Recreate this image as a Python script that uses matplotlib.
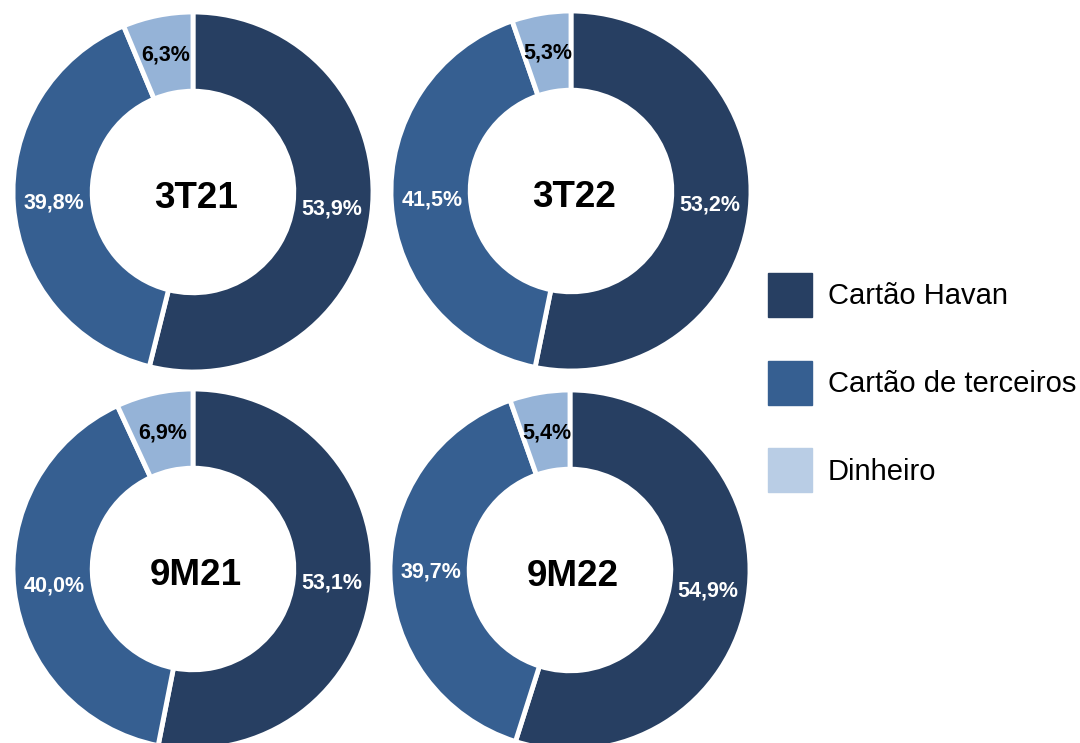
import matplotlib.pyplot as plt
from matplotlib.patches import Patch

plt.rcParams['font.family'] = ['Liberation Sans', 'DejaVu Sans']

categories = ["Cartão Havan", "Cartão de terceiros", "Dinheiro"]
periods = ["3T21", "3T22", "9M21", "9M22"]
havan = [53.9, 53.2, 53.1, 54.9]
terceiros = [39.8, 41.5, 40.0, 39.7]
dinheiro = [6.3, 5.3, 6.9, 5.4]

colors = ["#273F62", "#365F91", "#95B3D7"]
legend_colors = ["#273F62", "#365F91", "#B9CDE5"]
label_colors = ["white", "white", "black"]

W, H = 1080, 743
R = 180
centers = [(193, 192), (571, 191), (193, 569), (570, 570)]


def fmt(p):
    return "{:.1f}%".format(p).replace(".", ",")


def draw_donut(fig, center, values, title):
    cx, cy = center
    ax = fig.add_axes([(cx - R) / W, 1 - (cy + R) / H, 2 * R / W, 2 * R / H])
    wedges, _, autotexts = ax.pie(
        values, colors=colors, startangle=90, counterclock=False,
        autopct=fmt, pctdistance=0.775,
        wedgeprops=dict(width=0.44, edgecolor="white", linewidth=3.5))
    for t, c in zip(autotexts, label_colors):
        t.set_color(c)
        t.set_fontsize(15.5)
        t.set_fontweight("bold")
    ax.text(0.015, -0.035, title, ha="center", va="center",
            fontsize=26.5, fontweight="bold", color="black")
    ax.set_xlim(-1, 1)
    ax.set_ylim(-1, 1)
    ax.set_aspect("equal")
    ax.axis("off")


def main():
    fig = plt.figure(figsize=(W / 100, H / 100), dpi=100)
    fig.patch.set_facecolor("white")
    for i, period in enumerate(periods):
        values = [havan[i], terceiros[i], dinheiro[i]]
        draw_donut(fig, centers[i], values, period)

    handles = [Patch(facecolor=c, edgecolor=c) for c in legend_colors]
    fig.legend(handles, categories, loc="upper left",
               bbox_to_anchor=(768 / W, 1 - 273 / H), frameon=False,
               fontsize=21, handlelength=1.51, handleheight=1.94,
               labelspacing=1.5, handletextpad=0.55, borderpad=0,
               borderaxespad=0)
    fig.savefig("out.png", dpi=100)


if __name__ == '__main__':
    main()
